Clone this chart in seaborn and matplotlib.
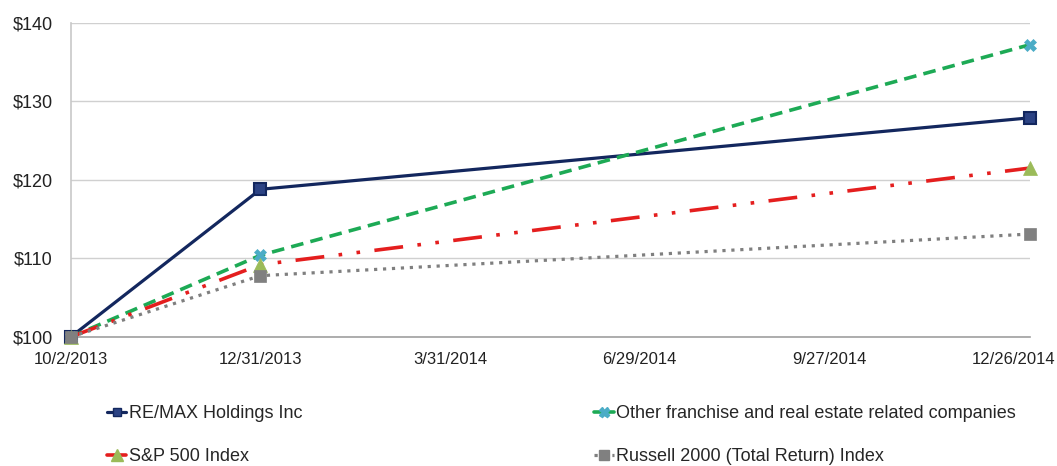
import matplotlib
matplotlib.use("Agg")
import matplotlib.pyplot as plt
import matplotlib.transforms as mtransforms
import seaborn as sns
import pandas as pd
from matplotlib.lines import Line2D

dates = ["2013-10-02", "2013-12-31", "2014-12-31"]
remax = [100.0, 118.8, 127.9]
other = [100.0, 110.4, 137.2]
sp500 = [100.0, 109.2, 121.5]
russell = [100.0, 107.8, 113.1]
tick_dates = ["2013-10-02", "2013-12-31", "2014-03-31", "2014-06-29", "2014-09-27", "2014-12-26"]
tick_labels = ["10/2/2013", "12/31/2013", "3/31/2014", "6/29/2014", "9/27/2014", "12/26/2014"]
y_ticks = [100, 110, 120, 130, 140]
names = ["RE/MAX Holdings Inc", "Other franchise and real estate related companies",
         "S&P 500 Index", "Russell 2000 (Total Return) Index"]

sns.set_theme(style="white")
plt.rcParams['font.family'] = ['Liberation Sans', 'DejaVu Sans']

fig = plt.figure(figsize=(10.57, 4.66), dpi=100)
ax = fig.add_axes([0.067, 0.277, 0.907, 0.674])

x = pd.to_datetime(dates)
styles = [
    dict(y=remax, color="#13275E", ls="-", lw=2.3, marker="s", ms=8, mfc="#2C4384", mec="#13275E", mew=1.5),
    dict(y=other, color="#1DAA55", ls=(0, (3.5, 2)), lw=2.6, marker="X", ms=9, mfc="#4BACC6", mec="#4BACC6", mew=0.5),
    dict(y=sp500, color="#E41E1E", ls=(0, (8, 4, 1, 4, 1, 4)), lw=2.6, marker="^", ms=10, mfc="#9BBB59", mec="#9BBB59", mew=0.5),
    dict(y=russell, color="#7F7F7F", ls=(0, (1, 1.8)), lw=2.3, marker="s", ms=9, mfc="#808080", mec="#808080", mew=0.5),
]
handles = []
for name, s in zip(names, styles):
    df = pd.DataFrame({"date": x, "value": s["y"]})
    sns.lineplot(data=df, x="date", y="value", ax=ax, color=s["color"], lw=s["lw"],
                 linestyle=s["ls"], marker=s["marker"], markersize=s["ms"],
                 markerfacecolor=s["mfc"], markeredgecolor=s["mec"], markeredgewidth=s["mew"],
                 clip_on=False, zorder=3)
    handles.append(Line2D([], [], color=s["color"], lw=s["lw"], linestyle="-" if name != names[3] else s["ls"],
                          marker=s["marker"], markersize=s["ms"] * 0.8, markerfacecolor=s["mfc"],
                          markeredgecolor=s["mec"], label=name))

ax.set_xlim(pd.Timestamp("2013-10-02"), pd.Timestamp("2014-12-31"))
ax.set_ylim(100, 140)
ax.set_xticks(pd.to_datetime(tick_dates))
ax.set_xticklabels(tick_labels)
ax.set_yticks(y_ticks)
ax.set_yticklabels([f"${v}" for v in y_ticks])
ax.set_xlabel("")
ax.set_ylabel("")
ax.tick_params(axis="x", labelsize=12, colors="#222222", length=0, pad=11)
ax.tick_params(axis="y", labelsize=13, colors="#222222", length=0, pad=13)
ax.yaxis.grid(True, color="#D0D0D0", lw=1)
ax.xaxis.grid(False)
for side in ["top", "right"]:
    ax.spines[side].set_visible(False)
ax.spines["left"].set_color("#C8C8C8")
ax.spines["bottom"].set_color("#A0A0A0")
ax.spines["left"].set_linewidth(1.2)
ax.spines["bottom"].set_linewidth(1.2)

last = ax.get_xticklabels()[-1]
last.set_transform(last.get_transform() + mtransforms.ScaledTranslation(-5 / 100, 0, fig.dpi_scale_trans))

leg_kw = dict(loc="upper left", frameon=False, fontsize=13, handlelength=1.1, handletextpad=0.15,
              labelspacing=1.45, borderaxespad=0)
fig.legend(handles=[handles[0], handles[2]], bbox_to_anchor=(0.094, 0.146), **leg_kw)
fig.legend(handles=[handles[1], handles[3]], bbox_to_anchor=(0.555, 0.146), **leg_kw)

fig.savefig("out.png", dpi=100)
